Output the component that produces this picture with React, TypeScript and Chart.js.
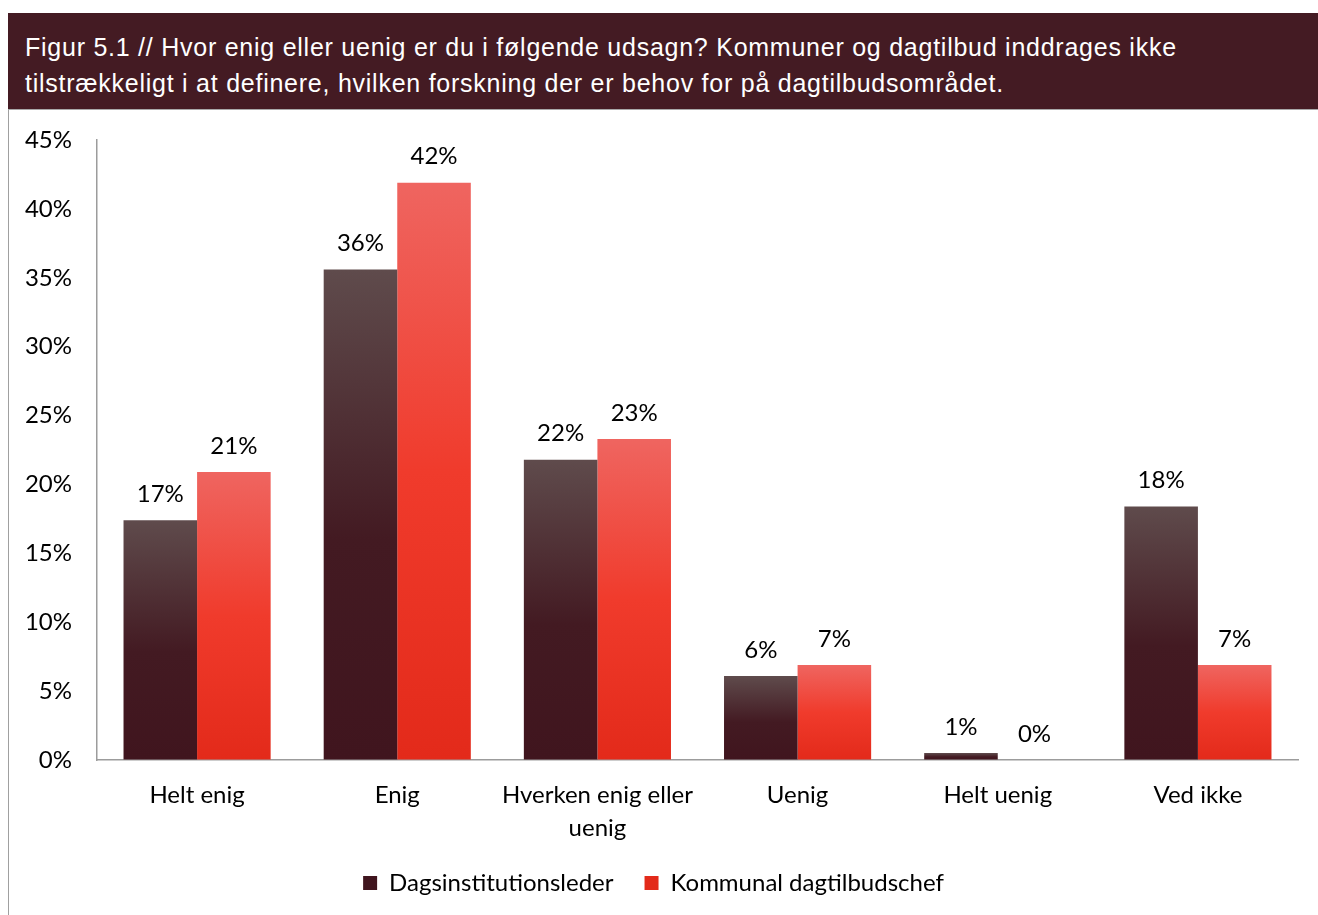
import React, { useEffect, useRef } from "react";
import { Chart, registerables } from "chart.js";

Chart.register(...registerables);

const categories: (string | string[])[] = [
  "Helt enig",
  "Enig",
  ["Hverken enig eller", "uenig"],
  "Uenig",
  "Helt uenig",
  "Ved ikke",
];
const seriesNames = ["Dagsinstitutionsleder", "Kommunal dagtilbudschef"];
const dagsValues = [17.4, 35.6, 21.8, 6.1, 0.5, 18.4];
const kommunalValues = [20.9, 41.9, 23.3, 6.9, 0, 6.9];
const yMax = 45;
const yStep = 5;

const FONT = "Lato, 'Open Sans', sans-serif";

function barGradient(ctx: any, stops: [number, string][], solid: string) {
  const chart = ctx.chart;
  if (ctx.type !== "data" || !chart.chartArea) return solid;
  const yScale = chart.scales.y;
  const v = ctx.raw as number;
  const top = yScale.getPixelForValue(v);
  const base = yScale.getPixelForValue(0);
  if (!isFinite(top) || base - top < 1) return solid;
  const g = chart.ctx.createLinearGradient(0, top, 0, base);
  stops.forEach(([o, c]) => g.addColorStop(o, c));
  return g;
}

const valueLabels = {
  id: "valueLabels",
  afterDatasetsDraw(chart: any) {
    const ctx = chart.ctx;
    ctx.save();
    ctx.font = `24px ${FONT}`;
    ctx.fillStyle = "#000";
    ctx.textAlign = "center";
    ctx.textBaseline = "middle";
    chart.data.datasets.forEach((ds: any, i: number) => {
      const meta = chart.getDatasetMeta(i);
      meta.data.forEach((el: any, j: number) => {
        const v = ds.data[j] as number;
        ctx.fillText(Math.round(v) + "%", el.x, el.y - 26);
      });
    });
    ctx.restore();
  },
};

export default function App() {
  const ref = useRef<HTMLCanvasElement | null>(null);

  useEffect(() => {
    document.body.style.overflow = "hidden";
    if (!ref.current) return;
    const chart = new Chart(ref.current, {
      type: "bar",
      data: {
        labels: categories,
        datasets: [
          {
            label: seriesNames[0],
            data: dagsValues,
            backgroundColor: (c: any) =>
              barGradient(
                c,
                [
                  [0, "#5f4b4c"],
                  [0.55, "#431a22"],
                  [1, "#40151e"],
                ],
                "#4a2229"
              ),
            borderWidth: 0,
            categoryPercentage: 0.735,
            barPercentage: 1,
          },
          {
            label: seriesNames[1],
            data: kommunalValues,
            backgroundColor: (c: any) =>
              barGradient(
                c,
                [
                  [0, "#ef6560"],
                  [0.5, "#f03b2c"],
                  [1, "#e32a1a"],
                ],
                "#ec4436"
              ),
            borderWidth: 0,
            categoryPercentage: 0.735,
            barPercentage: 1,
          },
        ],
      },
      options: {
        animation: false,
        responsive: false,
        layout: { padding: { top: 30, right: 20, left: 0, bottom: 10 } },
        plugins: {
          title: { display: false },
          tooltip: { enabled: false },
          legend: {
            position: "bottom",
            labels: {
              boxWidth: 14,
              boxHeight: 14,
              padding: 31,
              color: "#000",
              font: { family: FONT, size: 24, lineHeight: 1 },
            },
          },
        },
        scales: {
          x: {
            grid: { drawOnChartArea: false, drawTicks: false },
            border: { display: true, color: "#9c9c9c", width: 1.5 },
            ticks: {
              color: "#000",
              padding: 19,
              maxRotation: 0,
              autoSkip: false,
              font: { family: FONT, size: 24, lineHeight: 1.37 },
            },
            afterFit: (s: any) => {
              s.height = 80;
            },
          },
          y: {
            min: 0,
            max: yMax,
            grid: { drawOnChartArea: false, drawTicks: false },
            border: { display: true, color: "#9c9c9c", width: 1.5 },
            ticks: {
              stepSize: yStep,
              color: "#000",
              padding: 25,
              font: { family: FONT, size: 24 },
              callback: (v: any) => v + "%",
            },
            afterFit: (s: any) => {
              s.width = 88;
              s.paddingTop = 0;
              s.paddingBottom = 0;
            },
          },
        },
      },
      plugins: [valueLabels],
    });
    return () => chart.destroy();
  }, []);

  return (
    <div style={{ position: "absolute", left: 8, top: 13, width: 1310 }}>
      <div
        style={{
          background: "#441b23",
          color: "#fff",
          fontFamily: "'Liberation Sans', Arial, sans-serif",
          fontSize: 25,
          letterSpacing: "0.75px",
          lineHeight: "36px",
          padding: "16px 17px 8px 17px",
          height: 72,
          whiteSpace: "nowrap",
          borderBottom: "1px solid #a8a8a8",
        }}
      >
        Figur 5.1 // Hvor enig eller uenig er du i følgende udsagn? Kommuner og dagtilbud inddrages ikke
        <br />
        tilstrækkeligt i at definere, hvilken forskning der er behov for på dagtilbudsområdet.
      </div>
      <div style={{ borderLeft: "1px solid #a0a0a0", width: 1309, height: 805 }}>
        <canvas ref={ref} width={1309} height={805} style={{ display: "block" }} />
      </div>
    </div>
  );
}
